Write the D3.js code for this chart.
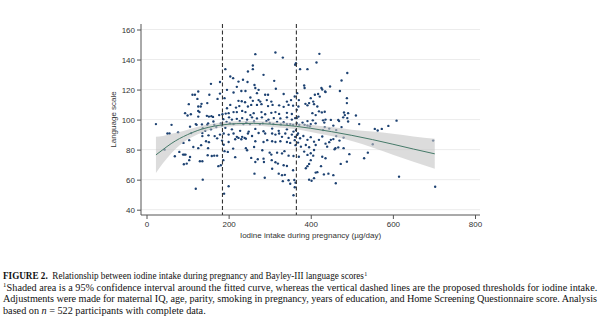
<!DOCTYPE html>
<html>
<head>
<meta charset="utf-8">
<script src="https://cdn.jsdelivr.net/npm/d3@7"></script>
<style>
  body { margin: 0; background: #fff; }
  svg { display: block; }
</style>
</head>
<body>
<svg id="chart" width="600" height="322"></svg>
<script>
// Axis ticks
const xTicks = [0, 200, 400, 600, 800];
const yTicks = [40, 60, 80, 100, 120, 140, 160];

// Proposed iodine intake thresholds (µg/day)
const thresholds = [185, 365];

// Fitted curve and its 95% confidence band
const fitIntake = [23, 40, 60, 80, 100, 125, 150, 185, 220, 260, 300, 340, 365, 400, 450, 500, 550, 600, 650, 702];
const fitScore  = [76.5, 80, 84, 87.3, 90, 92.8, 94.8, 96.5, 97.3, 97.5, 97, 96.2, 95.5, 94.2, 92, 89.5, 86.7, 83.6, 80.4, 77.2];
const ciUpper   = [88.5, 89, 90.5, 91.8, 93.3, 95.3, 96.8, 98.3, 98.9, 99.1, 98.7, 98.1, 97.5, 96.6, 95, 93.3, 92, 90.6, 88.8, 87.2];
const ciLower   = [64.5, 71, 77.5, 82.8, 86.7, 90.3, 92.8, 94.7, 95.7, 95.9, 95.3, 94.3, 93.5, 91.8, 89, 85.7, 81.4, 76.6, 72, 67.2];

// Participants: [iodine intake µg/day, Bayley-III language score]
const participants = [
  [23,97],[61,96.5],[157,123.8],[179,125],[126,118.7],[112,116.5],[118,116.5],[153,116.5],[179,117.3],[124,113.8],
  [173,113.8],[103,110.3],[134,110.5],[148,111],[126,108.7],[132,108.7],[126,105.8],[129,105],[94,104.3],[108,103.6],
  [100,102.7],[147,102.5],[152,102],[158,102.3],[162,101.8],[185,103.6],[177,103],[126,102],[187,100.3],[163,98.7],
  [148,96.5],[137,94.3],[122,96.5],[106,95.3],[77,91.5],[56,90.7],[51,90.7],[184,96],[181,97.5],[120,97],
  [135,96.8],[150,97.5],[165,96.5],[170,95],[157,93.5],[143,92.5],
  [109,91],[136,91],[136,89],[145,85.6],[90,84.5],[104,86.3],[114,81.8],[126,81],[133,83],[150,81],
  [152,85],[44,80],[69,75.6],[80,78.5],[89,76.7],[92,76.7],[95,76.7],[106,75.1],[104,73],[91,70.3],
  [98,70.7],[130,72.3],[136,72.3],[149,76.3],[159,75.8],[165,76],[172,76],[175,69],[181,69.6],[187,73],
  [137,60],[120,54],[189,50.7],[184,86],[151,89.5],[166,89],[179,90],[172,87.5],
  [265,143.6],[314,144.7],[332,141.3],[259,136],[259,133.6],[192,133.6],[247,132],[285,129.8],[204,128.7],[211,127.6],
  [235,126.5],[224,125.3],[246,125],[311,125.8],[263,123],[220,121.8],[265,121],[273,119.8],[196,119.8],[231,119],
  [241,119],[315,120.5],[212,118],[289,116.5],[296,116.5],[269,117.6],[334,117],[361,115.4],[190,114.3],[224,112.5],
  [232,112.2],[240,111.6],[253,114.7],[259,112.5],[273,113],[277,112],[293,113],[304,112],[342,112],[352,113],
  [204,109.8],[196,107.6],[218,108],[226,109],[247,108.7],[255,109.8],[269,109.8],[280,110.3],[296,109],[307,109.8],
  [323,109.5],[334,108.5],[346,109.8],[357,109.3],[212,105],[220,105],[193,104],[200,104.3],[233,105.8],[241,105],
  [253,103],[261,104.3],[280,105],[289,103.6],[304,104.5],[314,105],[323,103.8],[342,104.5],[354,103.7],
  [201,101.5],[208,100],[220,100.5],[233,101],[245,100],[257,101.5],[269,100.8],[281,101.5],[297,100],[310,101],
  [326,100.8],[342,101.5],[354,100],[362,101],
  [192,94.5],[208,93.5],[228,92.5],[249,92],[265,93.8],[285,92.2],[306,94],[322,92.5],[342,93.5],[358,92],
  [212,97],[236,97],[276,97],[309,97],[342,97],[195,98.5],[203,97.5],[227,99],[243,98],[252,97],
  [262,98.8],[283,97.5],[292,99],[300,97.8],[318,98.5],[327,96.8],[334,98.2],[350,97],[357,96.5],
  [188,90.7],[200,90],[212,90.7],[220,88.5],[224,87.8],[233,88.5],[239,87.8],[247,90.7],[257,89.1],[273,91.1],
  [289,90.7],[306,90.7],[314,90],[323,90.7],[330,88.5],[338,90.7],[346,87.8],[354,90],[362,88.5],[369,90.7],
  [188,83.3],[200,85.1],[216,86.9],[231,86.9],[242,87.3],[265,85.6],[285,85.1],[294,86.3],[306,85.6],[314,85.1],
  [326,85.6],[342,85.1],[350,84.5],[361,86.3],[369,84.7],
  [211,80.7],[242,81],[245,79.6],[262,81.8],[282,79.6],[300,78],[304,76.7],[318,78],[330,77.5],[336,79],
  [346,76],[358,75.8],[190,79],[198,78.5],[216,75],[255,74.5],[265,71.8],[271,73.6],[285,74],[286,71.8],
  [305,73],[314,71.6],[320,70.7],[334,69.6],[342,69.1],[306,67.3],[322,64],[330,63],[337,63.2],[357,66.3],
  [263,64],[288,61.3],[332,59],[346,59.6],[350,57.3],[361,55],[358,49.6],[200,55.6],
  [414,138],[374,133.6],[392,133.6],[489,131],[475,126],[447,122],[384,122.7],[385,121],[426,121],[436,118.3],
  [410,116.5],[418,117],[422,115.3],[400,114.3],[406,112],[387,110.5],[392,109.5],[396,111],[408,110.3],[416,108.7],
  [488,111],[491,104.3],[481,104.7],[420,105.5],[427,104.8],[434,105.2],[404,104.3],[412,103],[489,101],[491,98.7],
  [469,99],[430,99.5],[433,98],[436,100],[366,106.5],[370,108.7],[366,101],[370,102],[366,97.6],[372,96.5],
  [364,93],[380,98],[385,96.5],[392,99],[400,97],[405,99.5],[412,97.5],[392,96],[398,95.5],[367,117.6],
  [371,113],
  [367,89.8],[374,87.6],[382,89.1],[392,86.5],[400,88.3],[408,85.3],[388,83.1],[376,82],[396,81.6],[412,83.1],
  [420,86.5],[428,88.7],[384,78.7],[392,76.5],[400,77.6],[371,75.3],[408,79.8],
  [436,84],[449,86.5],[440,82],[458,80.3],[428,75.3],[436,74.3],[488,72],[473,70.5],[396,70.5],[400,73],
  [388,67.6],[392,69],[412,64.7],[432,63.5],[443,64],[455,63],[396,60],[402,59.3],[408,61],[461,57.6],
  [363,83],[363,58],
  [421,143.8],[364,137.6],[362,136.5],[428,120],[435,118.7],[471,119],[488,114.3],[510,102.7],[479,101.5],[483,103],
  [467,99.8],[449,99.8],[518,97],[609,99.3],[589,95.8],[556,93.8],[573,93.8],[563,92.7],[698,86],[551,83.6],
  [539,78],[530,74.3],[494,77],[615,62],[703,55.3],[416,65],[425,69],[460,81],[467,81.5],[480,81],
  [445,85],[455,87],[462,89],[470,86],[480,88],[430,93],[434,95],[445,94],[455,96],[462,93],
  [475,95],[406,76],[360,59.8]
];

// Plot frame
const plotLeft = 141, plotRight = 480, plotTop = 24, plotBottom = 215;

const x = d3.scaleLinear().domain([0, 800]).range([146.5, 475]);
const y = d3.scaleLinear().domain([40, 160]).range([209.7, 29.5]);

const svg = d3.select("#chart");
const sans = "'Liberation Sans', Arial, Helvetica, sans-serif";

// Horizontal grid
svg.append("g")
  .selectAll("line")
  .data(yTicks)
  .join("line")
  .attr("x1", plotLeft).attr("x2", plotRight)
  .attr("y1", d => y(d)).attr("y2", d => y(d))
  .attr("stroke", "#ececec")
  .attr("stroke-width", 1);

// Scatter of participants
svg.append("g")
  .selectAll("circle")
  .data(participants)
  .join("circle")
  .attr("cx", d => x(d[0]))
  .attr("cy", d => y(d[1]))
  .attr("r", 1.2)
  .attr("fill", "#1d4272");

// Confidence band
const fit = fitIntake.map((v, i) => ({ x: v, y: fitScore[i], lo: ciLower[i], hi: ciUpper[i] }));
svg.append("path")
  .datum(fit)
  .attr("d", d3.area()
    .x(d => x(d.x))
    .y0(d => y(d.lo))
    .y1(d => y(d.hi))
    .curve(d3.curveMonotoneX))
  .attr("fill", "#c4c4c4")
  .attr("fill-opacity", 0.6);

// Fitted curve
svg.append("path")
  .datum(fit)
  .attr("d", d3.line()
    .x(d => x(d.x))
    .y(d => y(d.y))
    .curve(d3.curveMonotoneX))
  .attr("fill", "none")
  .attr("stroke", "#467a69")
  .attr("stroke-width", 1);

// Threshold lines
svg.append("g")
  .selectAll("line")
  .data(thresholds)
  .join("line")
  .attr("x1", d => x(d)).attr("x2", d => x(d))
  .attr("y1", plotTop).attr("y2", plotBottom)
  .attr("stroke", "#333")
  .attr("stroke-width", 1.1)
  .attr("stroke-dasharray", "4,2.5");

// Axes
const yAxis = svg.append("g")
  .attr("transform", `translate(${plotLeft},0)`)
  .call(d3.axisLeft(y).tickValues(yTicks).tickSize(4).tickPadding(2));
const xAxis = svg.append("g")
  .attr("transform", `translate(0,${plotBottom})`)
  .call(d3.axisBottom(x).tickValues(xTicks).tickSize(4).tickPadding(2));

[yAxis, xAxis].forEach(g => {
  g.select(".domain").remove();
  g.selectAll(".tick line").attr("stroke", "#555");
  g.selectAll(".tick text")
    .attr("font-family", sans)
    .attr("font-size", 8)
    .attr("fill", "#333");
});

svg.append("line")
  .attr("x1", plotLeft).attr("x2", plotLeft)
  .attr("y1", plotTop).attr("y2", plotBottom)
  .attr("stroke", "#555");
svg.append("line")
  .attr("x1", plotLeft).attr("x2", plotRight)
  .attr("y1", plotBottom).attr("y2", plotBottom)
  .attr("stroke", "#555");

// Axis titles
svg.append("text")
  .attr("transform", `translate(116,${(plotTop + plotBottom) / 2}) rotate(-90)`)
  .attr("text-anchor", "middle")
  .attr("font-family", sans)
  .attr("font-size", 8)
  .attr("fill", "#333")
  .text("Language scale");

svg.append("text")
  .attr("x", 310.5)
  .attr("y", 238)
  .attr("text-anchor", "middle")
  .attr("font-family", sans)
  .attr("font-size", 8)
  .attr("fill", "#333")
  .text("Iodine intake during pregnancy (µg/day)");

// Figure caption
const cap = svg.append("g")
  .attr("font-family", "'Liberation Serif', 'Times New Roman', serif")
  .attr("fill", "#111")
  .attr("font-size", 9);

const capLeft = 3, capWidth = 594, titleWidth = 364;
const baselines = [279, 290.5, 302, 313.5];

// Title line is set in its own group so it can be narrowed as a whole
const titleGroup = cap.append("g").attr("transform", `translate(${capLeft},${baselines[0]})`);
const l1 = titleGroup.append("text").attr("x", 0).attr("y", 0);
l1.append("tspan").attr("font-weight", "bold").text("FIGURE 2.");
l1.append("tspan").text("\u00a0 Relationship between iodine intake during pregnancy and Bayley-III language scores");
l1.append("tspan").attr("font-size", "0.65em").attr("dx", 0.5).attr("dy", -3.5).text("1");

const l2 = cap.append("text").attr("x", capLeft).attr("y", baselines[1]);
l2.append("tspan").attr("font-size", "0.65em").attr("dy", -3.5).text("1");
l2.append("tspan").attr("dy", 3.5).attr("dx", 0.3).text("Shaded area is a 95% confidence interval around the fitted curve, whereas the vertical dashed lines are the proposed thresholds for iodine intake.");

const l3 = cap.append("text").attr("x", capLeft).attr("y", baselines[2])
  .text("Adjustments were made for maternal IQ, age, parity, smoking in pregnancy, years of education, and Home Screening Questionnaire score. Analysis");

const l4 = cap.append("text").attr("x", capLeft).attr("y", baselines[3]);
l4.append("tspan").text("based on ");
l4.append("tspan").attr("font-style", "italic").text("n");
l4.append("tspan").text(" = 522 participants with complete data.");

// Size the caption so the justified lines fill the text column
const natural = l2.node().getComputedTextLength();
const fs = Math.max(7, Math.min(11, 9 * capWidth / natural));
cap.attr("font-size", fs);
l3.attr("textLength", capWidth).attr("lengthAdjust", "spacing");
const l2w = l2.node().getComputedTextLength();
if (l2w < capWidth) {
  // spread the words of the second line to the column edge
  const words = (l2.select("tspan:nth-child(2)").text().match(/ /g) || []).length;
  l2.select("tspan:nth-child(2)").attr("word-spacing", (capWidth - l2w) / words);
}
const l1w = l1.node().getComputedTextLength();
if (l1w > titleWidth) {
  titleGroup.attr("transform", `translate(${capLeft},${baselines[0]}) scale(${titleWidth / l1w},1)`);
}
</script>
</body>
</html>
